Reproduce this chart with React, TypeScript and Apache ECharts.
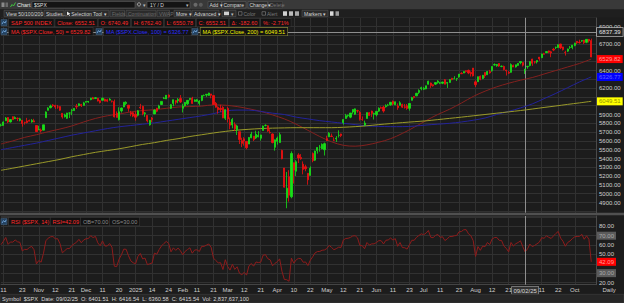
import React, { useEffect, useRef } from "react";
import * as echarts from "echarts";

const FONT = '"Liberation Sans", Arial, Helvetica, sans-serif';

// Daily S&P 500 sessions: [day, open, high, low, close]
const oct24 = [
  [10, 5778, 5796, 5763, 5780], [11, 5775, 5822, 5775, 5815], [14, 5829, 5871, 5829, 5860], [15, 5866, 5871, 5802, 5815],
  [16, 5816, 5846, 5808, 5842], [17, 5875, 5878, 5840, 5841], [18, 5852, 5879, 5849, 5865], [21, 5857, 5866, 5825, 5854],
  [22, 5833, 5863, 5822, 5851], [23, 5835, 5835, 5762, 5797], [24, 5812, 5817, 5785, 5810], [25, 5827, 5862, 5799, 5808],
  [28, 5833, 5842, 5822, 5824], [29, 5816, 5848, 5807, 5833], [30, 5828, 5851, 5813, 5814], [31, 5775, 5776, 5703, 5705],
];
const nov24 = [
  [1, 5723, 5772, 5723, 5729], [4, 5725, 5741, 5696, 5713], [5, 5722, 5784, 5722, 5783], [6, 5864, 5936, 5864, 5929],
  [7, 5947, 5983, 5947, 5973], [8, 5977, 6012, 5970, 5996], [11, 6009, 6018, 5986, 6001], [12, 6003, 6010, 5963, 5984],
  [13, 5986, 6009, 5965, 5985], [14, 5990, 5993, 5942, 5949], [15, 5913, 5915, 5853, 5871], [18, 5875, 5909, 5866, 5894],
  [19, 5857, 5919, 5850, 5917], [20, 5917, 5921, 5860, 5917], [21, 5945, 5964, 5892, 5949], [22, 5944, 5973, 5944, 5969],
  [25, 5993, 6020, 5963, 5987], [26, 6000, 6026, 5993, 6022], [27, 6014, 6021, 5985, 5999], [29, 6003, 6044, 6003, 6032],
];
const dec24 = [
  [2, 6040, 6053, 6036, 6047], [3, 6042, 6053, 6033, 6050], [4, 6069, 6089, 6062, 6086], [5, 6090, 6100, 6075, 6075],
  [6, 6081, 6099, 6080, 6090], [9, 6084, 6088, 6048, 6053], [10, 6057, 6066, 6025, 6035], [11, 6061, 6093, 6061, 6084],
  [12, 6074, 6080, 6050, 6051], [13, 6068, 6079, 6040, 6051], [16, 6063, 6086, 6060, 6074], [17, 6052, 6058, 6036, 6051],
  [18, 6047, 6070, 5867, 5872], [19, 5913, 5935, 5866, 5867], [20, 5842, 5982, 5832, 5931], [23, 5941, 5979, 5921, 5974],
  [24, 5985, 6041, 5983, 6040], [26, 6025, 6050, 6008, 6038], [27, 6007, 6007, 5932, 5971], [30, 5921, 5941, 5880, 5907],
  [31, 5920, 5930, 5870, 5882],
];
const jan25 = [
  [2, 5903, 5935, 5829, 5869], [3, 5892, 5950, 5878, 5942], [6, 5983, 6021, 5961, 5975], [7, 5993, 6000, 5891, 5909],
  [8, 5910, 5928, 5874, 5918], [10, 5890, 5891, 5809, 5827], [13, 5782, 5837, 5773, 5836], [14, 5860, 5871, 5811, 5843],
  [15, 5906, 5960, 5906, 5950], [16, 5972, 5975, 5926, 5937], [17, 5969, 6011, 5969, 5997], [21, 6014, 6051, 6007, 6049],
  [22, 6081, 6100, 6076, 6086], [23, 6077, 6119, 6075, 6119], [24, 6121, 6128, 6089, 6101], [27, 5970, 6018, 5962, 6012],
  [28, 6026, 6070, 5994, 6068], [29, 6058, 6062, 6013, 6039], [30, 6057, 6087, 6028, 6071], [31, 6082, 6121, 6031, 6041],
];
const feb25 = [
  [3, 5970, 6022, 5923, 5995], [4, 5998, 6042, 5991, 6038], [5, 6021, 6063, 6008, 6061], [6, 6072, 6085, 6060, 6084],
  [7, 6086, 6101, 6020, 6026], [10, 6049, 6073, 6046, 6066], [11, 6050, 6077, 6044, 6069], [12, 6026, 6064, 6003, 6052],
  [13, 6060, 6116, 6051, 6115], [14, 6115, 6127, 6108, 6115], [18, 6121, 6130, 6100, 6130], [19, 6117, 6147, 6111, 6144],
  [20, 6134, 6134, 6084, 6118], [21, 6115, 6120, 6008, 6013], [24, 6027, 6043, 5977, 5983], [25, 5982, 5993, 5909, 5955],
  [26, 5970, 6010, 5928, 5956], [27, 5981, 5994, 5858, 5862], [28, 5857, 5960, 5837, 5955],
];
const mar25 = [
  [3, 5969, 5987, 5810, 5850], [4, 5812, 5866, 5732, 5778], [5, 5781, 5861, 5744, 5843], [6, 5786, 5812, 5711, 5739],
  [7, 5726, 5784, 5667, 5770], [10, 5705, 5705, 5565, 5615], [11, 5603, 5636, 5529, 5572], [12, 5624, 5642, 5546, 5599],
  [13, 5594, 5598, 5505, 5522], [14, 5564, 5645, 5564, 5639], [17, 5635, 5703, 5631, 5675], [18, 5654, 5654, 5598, 5615],
  [19, 5633, 5716, 5622, 5675], [20, 5646, 5711, 5641, 5663], [21, 5630, 5670, 5603, 5668], [24, 5718, 5775, 5718, 5768],
  [25, 5776, 5787, 5765, 5777], [26, 5772, 5778, 5703, 5712], [27, 5696, 5733, 5684, 5693], [28, 5679, 5685, 5572, 5581],
  [31, 5527, 5616, 5489, 5612],
];
const apr25 = [
  [1, 5597, 5650, 5558, 5633], [2, 5581, 5695, 5578, 5671], [3, 5492, 5500, 5391, 5397], [4, 5292, 5293, 5070, 5074],
  [7, 4954, 5247, 4835, 5062], [8, 5194, 5267, 4910, 4983], [9, 4965, 5481, 4948, 5457], [10, 5353, 5353, 5115, 5268],
  [11, 5255, 5381, 5201, 5363], [14, 5441, 5460, 5348, 5406], [15, 5411, 5450, 5386, 5397], [16, 5335, 5367, 5220, 5276],
  [17, 5306, 5329, 5255, 5283], [21, 5232, 5232, 5102, 5158], [22, 5208, 5310, 5208, 5288], [23, 5457, 5469, 5357, 5376],
  [24, 5381, 5490, 5371, 5485], [25, 5490, 5528, 5456, 5525], [28, 5529, 5554, 5478, 5529], [29, 5509, 5572, 5505, 5561],
  [30, 5499, 5581, 5434, 5569],
];
const may25 = [
  [1, 5626, 5659, 5598, 5604], [2, 5646, 5700, 5646, 5687], [5, 5655, 5683, 5643, 5650], [6, 5607, 5641, 5598, 5607],
  [7, 5623, 5655, 5588, 5631], [8, 5663, 5720, 5638, 5664], [9, 5679, 5683, 5643, 5660], [12, 5807, 5847, 5786, 5844],
  [13, 5855, 5907, 5853, 5887], [14, 5888, 5899, 5868, 5893], [15, 5870, 5917, 5858, 5917], [16, 5929, 5959, 5908, 5958],
  [19, 5903, 5968, 5896, 5964], [20, 5944, 5954, 5920, 5940], [21, 5923, 5938, 5831, 5845], [22, 5842, 5878, 5828, 5842],
  [23, 5781, 5830, 5768, 5803], [27, 5855, 5922, 5855, 5922], [28, 5921, 5929, 5884, 5889], [29, 5939, 5944, 5873, 5912],
  [30, 5904, 5922, 5843, 5912],
];
const jun25 = [
  [2, 5897, 5937, 5879, 5936], [3, 5938, 5981, 5929, 5970], [4, 5978, 5991, 5967, 5971], [5, 5985, 5999, 5921, 5939],
  [6, 5988, 6016, 5978, 6000], [9, 6005, 6021, 5994, 6006], [10, 6010, 6043, 6000, 6039], [11, 6050, 6059, 6003, 6022],
  [12, 6010, 6046, 6006, 6045], [13, 5997, 6026, 5953, 5977], [16, 6004, 6051, 6004, 6033], [17, 6013, 6023, 5974, 5983],
  [18, 5987, 6019, 5967, 5981], [20, 5999, 6019, 5953, 5968], [23, 5970, 6028, 5944, 6025], [24, 6061, 6101, 6059, 6092],
  [25, 6105, 6108, 6081, 6092], [26, 6112, 6146, 6108, 6141], [27, 6151, 6187, 6132, 6173], [30, 6193, 6216, 6175, 6205],
];
const jul25 = [
  [1, 6187, 6211, 6178, 6198], [2, 6191, 6227, 6187, 6227], [3, 6243, 6284, 6241, 6279], [7, 6258, 6263, 6202, 6230],
  [8, 6238, 6243, 6216, 6226], [9, 6245, 6266, 6236, 6263], [10, 6264, 6290, 6249, 6280], [11, 6256, 6270, 6245, 6260],
  [14, 6255, 6272, 6245, 6269], [15, 6295, 6302, 6243, 6244], [16, 6256, 6269, 6202, 6264], [17, 6264, 6300, 6261, 6297],
  [18, 6311, 6316, 6289, 6297], [21, 6305, 6336, 6303, 6306], [22, 6307, 6310, 6281, 6310], [23, 6327, 6360, 6318, 6359],
  [24, 6368, 6381, 6361, 6363], [25, 6371, 6390, 6369, 6389], [28, 6397, 6401, 6375, 6390], [29, 6402, 6410, 6358, 6371],
  [30, 6378, 6390, 6332, 6363], [31, 6428, 6428, 6332, 6339],
];
const aug25 = [
  [1, 6271, 6288, 6213, 6238], [4, 6272, 6330, 6272, 6330], [5, 6336, 6343, 6289, 6299], [6, 6309, 6350, 6301, 6345],
  [7, 6377, 6379, 6314, 6340], [8, 6351, 6395, 6351, 6389], [11, 6389, 6407, 6364, 6373], [12, 6398, 6446, 6386, 6446],
  [13, 6462, 6481, 6456, 6467], [14, 6453, 6474, 6442, 6469], [15, 6479, 6481, 6441, 6450], [18, 6445, 6457, 6437, 6449],
  [19, 6446, 6456, 6401, 6411], [20, 6405, 6408, 6343, 6396], [21, 6380, 6393, 6360, 6370], [22, 6379, 6481, 6374, 6467],
  [25, 6458, 6467, 6439, 6439], [26, 6440, 6466, 6433, 6466], [27, 6458, 6482, 6453, 6481], [28, 6489, 6503, 6471, 6502],
  [29, 6492, 6493, 6445, 6460],
];
const sep25 = [
  [2, 6402, 6417, 6361, 6416], [3, 6443, 6452, 6420, 6448], [4, 6457, 6502, 6447, 6502], [5, 6530, 6533, 6453, 6482],
  [8, 6499, 6508, 6478, 6495], [9, 6498, 6513, 6479, 6513], [10, 6552, 6554, 6510, 6532], [11, 6545, 6592, 6543, 6587],
  [12, 6591, 6601, 6580, 6584], [15, 6602, 6617, 6600, 6615], [16, 6623, 6627, 6596, 6607], [17, 6613, 6624, 6551, 6600],
  [18, 6642, 6657, 6620, 6632], [19, 6661, 6672, 6643, 6664], [22, 6660, 6695, 6660, 6694], [23, 6701, 6703, 6643, 6657],
  [24, 6668, 6670, 6627, 6638], [25, 6608, 6625, 6570, 6605], [26, 6620, 6649, 6611, 6644], [29, 6661, 6679, 6644, 6661],
  [30, 6662, 6690, 6642, 6688],
];
const oct25 = [
  [1, 6685, 6715, 6675, 6711], [2, 6732, 6734, 6700, 6715], [3, 6722, 6750, 6706, 6716], [6, 6734, 6744, 6725, 6740],
  [7, 6745, 6747, 6700, 6715], [8, 6720, 6755, 6710, 6754], [9, 6754, 6757, 6718, 6735], [10, 6740, 6762, 6551, 6553],
];

const monthBlocks: [string, number[][]][] = [
  ["2024-10", oct24], ["2024-11", nov24], ["2024-12", dec24], ["2025-01", jan25], ["2025-02", feb25],
  ["2025-03", mar25], ["2025-04", apr25], ["2025-05", may25], ["2025-06", jun25], ["2025-07", jul25],
  ["2025-08", aug25], ["2025-09", sep25], ["2025-10", oct25],
];

// closes of the 14 sessions before the first visible one (RSI warm-up)
const priorCloses = [5702, 5719, 5732, 5722, 5745, 5738, 5762, 5709, 5710, 5699, 5751, 5696, 5751, 5792];

// moving averages, read every 5 sessions from the first visible one
const maStep = 5;
const ma50 = [5565, 5600, 5640, 5670, 5705, 5735, 5770, 5815, 5855, 5885, 5905, 5930, 5945, 5955, 5970, 5985, 5990,
  5995, 6010, 6005, 5990, 5965, 5935, 5895, 5850, 5790, 5720, 5650, 5590, 5550, 5540, 5555, 5585, 5625, 5685, 5755,
  5830, 5900, 5960, 6030, 6105, 6165, 6215, 6255, 6290, 6320, 6360, 6400, 6440, 6480, 6530];
const ma100 = [5500, 5525, 5550, 5575, 5605, 5635, 5665, 5690, 5715, 5740, 5760, 5775, 5790, 5805, 5825, 5845, 5865,
  5885, 5910, 5940, 5950, 5950, 5935, 5915, 5900, 5870, 5850, 5830, 5815, 5800, 5785, 5770, 5765, 5762, 5762, 5768,
  5780, 5790, 5800, 5815, 5835, 5860, 5900, 5935, 5975, 6020, 6080, 6140, 6205, 6270, 6327];
const ma200 = [5266, 5290, 5315, 5340, 5365, 5390, 5420, 5445, 5470, 5490, 5510, 5535, 5560, 5580, 5605, 5625, 5650,
  5670, 5690, 5708, 5722, 5732, 5740, 5745, 5748, 5750, 5750, 5750, 5750, 5755, 5762, 5772, 5785, 5797, 5808, 5818,
  5828, 5842, 5856, 5870, 5885, 5900, 5915, 5930, 5945, 5962, 5980, 5997, 6015, 6032, 6050];

// date-axis tick labels
const tickLabels: [string, string][] = [
  ["2024-10-11", "11"], ["2024-10-23", "23"], ["2024-11-01", "Nov"], ["2024-11-12", "12"], ["2024-11-21", "21"],
  ["2024-12-02", "Dec"], ["2024-12-11", "11"], ["2024-12-20", "20"], ["2025-01-02", "2025"], ["2025-01-14", "14"],
  ["2025-01-24", "24"], ["2025-02-03", "Feb"], ["2025-02-11", "11"], ["2025-02-21", "21"], ["2025-03-03", "Mar"],
  ["2025-03-12", "12"], ["2025-03-21", "21"], ["2025-04-01", "Apr"], ["2025-04-10", "10"], ["2025-04-22", "22"],
  ["2025-05-01", "May"], ["2025-05-12", "12"], ["2025-05-21", "21"], ["2025-06-02", "Jun"], ["2025-06-11", "11"],
  ["2025-06-23", "23"], ["2025-07-01", "Jul"], ["2025-07-11", "11"], ["2025-07-23", "23"], ["2025-08-01", "Aug"],
  ["2025-08-12", "12"], ["2025-08-21", "21"], ["2025-09-02", "Sep"], ["2025-09-11", "11"], ["2025-09-22", "22"],
  ["2025-10-01", "Oct"],
];

// header / legend / status texts
const quoteItems = ["S&P 500 INDEX", "Close: 6552.51", "O: 6740.49", "H: 6762.40", "L: 6550.78", "C: 6552.51", "Δ: -182.60", "%: -2.71%"];
const statusItems = ["Symbol", "$SPX", "Date: 09/02/25", "O: 6401.51", "H: 6416.54", "L: 6360.58", "C: 6415.54", "Vol: 2,837,637,100"];

const crossDate = "2025-09-02";
const crossDateLabel = "09/02/25";
const crossPrice = 6837.39;
const lastMa50 = 6529.82;
const lastMa100 = 6326.77;
const lastMa200 = 6049.51;
const lastRsi = 42.09;
const rsiOB = 70;
const rsiOS = 30;
const shownPriceTicks = [4900, 5000, 5100, 5200, 5300, 5400, 5500, 5600, 5700, 5800, 5900, 6200, 6400, 6700, 6900];
const shownRsiTicks = [20, 50, 60, 80];

function wilderRsi(series: number[], period: number): number[] {
  const out: number[] = [];
  let g = 0;
  let l = 0;
  for (let i = 1; i <= period; i++) {
    const d = series[i] - series[i - 1];
    if (d > 0) g += d; else l -= d;
  }
  g /= period;
  l /= period;
  out.push(l === 0 ? 100 : 100 - 100 / (1 + g / l));
  for (let i = period + 1; i < series.length; i++) {
    const d = series[i] - series[i - 1];
    g = (g * (period - 1) + Math.max(d, 0)) / period;
    l = (l * (period - 1) + Math.max(-d, 0)) / period;
    out.push(l === 0 ? 100 : 100 - 100 / (1 + g / l));
  }
  return out;
}

function buildOption() {
  const dates: string[] = [];
  const candles: number[][] = [];
  for (const [ym, rows] of monthBlocks) {
    for (const r of rows) {
      dates.push(`${ym}-${String(r[0]).padStart(2, "0")}`);
      candles.push([r[1], r[4], r[3], r[2]]);
    }
  }
  const closes = candles.map((c) => c[1]);
  const rsi = wilderRsi([...priorCloses, ...closes], 14).map((v, i) => [dates[i], +v.toFixed(2)]);
  const cats = [...dates, "pad-1", "pad-2"];
  const labelMap: Record<string, string> = {};
  tickLabels.forEach(([d, t]) => (labelMap[d] = t));
  const isTick = (_i: number, v: string) => labelMap[v] !== undefined;
  const maData = (arr: number[]) => arr.map((v, k) => [dates[k * maStep], v]);

  const gridColor = "#313131";
  const noLine = { color: "rgba(0,0,0,0)", width: 0 };
  const boxLabel = (text: string, bg: string, color: string, border?: string) => ({
    show: true, position: "end", distance: 1, formatter: text, color, backgroundColor: bg, opacity: 1,
    borderColor: border || bg, borderWidth: border ? 0.8 : 0, padding: [1.5, 2, 0.5, 2],
    fontSize: 6, fontFamily: FONT,
  });
  const crossLine = { color: "#8e8e8e", width: 1, type: "solid" };

  const maSeries = (name: string, arr: number[], color: string, last: number, bg: string, txt: string) => ({
    name, type: "line", xAxisIndex: 0, yAxisIndex: 0, data: maData(arr), showSymbol: false, smooth: 0.35,
    lineStyle: { color, width: 1 }, itemStyle: { color }, silent: true, z: 3,
    markLine: {
      silent: true, symbol: ["none", "none"], emphasis: { disabled: true },
      data: [{ yAxis: last, lineStyle: noLine, label: boxLabel(last.toFixed(2), bg, txt) }],
    },
  });

  // ---------- overlay UI (toolbar, legends, status bar) ----------
  const T = (x: number, y: number, text: string, fill: string, size = 6, extra: any = {}) => ({
    type: "text", x, y, z: 101, silent: true,
    style: { text, fill, fontSize: size, fontFamily: FONT, verticalAlign: "middle", align: "left", ...extra },
  });
  const R = (x: number, y: number, w: number, h: number, fill: string, stroke?: string, lw = 0.6) => ({
    type: "rect", z: 100, silent: true, shape: { x, y, width: w, height: h },
    style: { fill, stroke: stroke || "none", lineWidth: lw },
  });
  const btn = (x: number, w: number, label: string, color = "#d4d4d4") => [
    R(x, 10.3, w, 6.4, "#2b2b2b", "#555555"),
    T(x + 2, 13.6, label, color, 5),
  ];
  const boxStyle = (fill: string, border = "#3a3a3a") => ({
    fill, fontSize: 5.6, fontFamily: FONT, backgroundColor: "#121212", borderColor: border, borderWidth: 0.6,
    padding: [1.2, 2, 0.6, 2],
  });
  const legendBox = (x: number, y: number, text: string, color: string, border = "#3a3a3a") =>
    T(x, y, text, color, 5.6, { backgroundColor: "#121212", borderColor: border, borderWidth: 0.6, padding: [1.2, 2, 0.6, 2] });
  const richRow = (x: number, y: number, items: string[], key: string, richDef: any) => ({
    type: "text", x, y, z: 101, silent: true,
    style: {
      text: items.map((t) => `{${key}|${t}}`).join("{gap| }"),
      verticalAlign: "middle", align: "left", fontSize: 5.6, fontFamily: FONT,
      rich: { gap: { fontSize: 5.6, fontFamily: FONT, fill: "#000" }, ...richDef },
    },
  });
  const studyIcon = (x: number, y: number) => [
    R(x, y - 3, 6, 6, "#23415f", "#4a6a8a", 0.5),
    {
      type: "polyline", z: 101, silent: true,
      shape: { points: [[x + 1, y + 1.5], [x + 2.5, y - 1], [x + 4, y + 0.5], [x + 5.2, y - 1.8]] },
      style: { stroke: "#8cc4ff", lineWidth: 0.7, fill: "none" },
    },
  ];

  const graphics: any[] = [
    // window title row
    R(0, 0, 624, 9.5, "#393939"),
    R(1.5, 2.5, 3, 4.5, "#8a8a8a"), R(5.5, 2.5, 2.5, 4.5, "#6a6a6a"),
    {
      type: "polyline", z: 101, silent: true,
      shape: { points: [[10.5, 7], [12, 4.5], [13.5, 6], [15.5, 2.5]] },
      style: { stroke: "#3fd13f", lineWidth: 0.9, fill: "none" },
    },
    T(17, 5, "Chart", "#e6e6e6", 5.5),
    R(32, 1.5, 103, 6.5, "#141414", "#5a5a5a"), T(34, 4.9, "$SPX", "#e0e0e0", 5),
    { type: "circle", z: 101, silent: true, shape: { cx: 139, cy: 4.4, r: 1.6 }, style: { fill: "none", stroke: "#cfcfcf", lineWidth: 0.7 } },
    T(142.5, 4.9, "▾", "#bbbbbb", 5),
    R(147, 1.5, 43, 6.5, "#141414", "#5a5a5a"), T(150, 4.9, "1Y / D", "#d8d8d8", 5), T(185.5, 4.9, "▾", "#bbbbbb", 5),
    { type: "circle", z: 101, silent: true, shape: { cx: 195.5, cy: 4.8, r: 2 }, style: { fill: "#6a6a6a" } },
    { type: "circle", z: 101, silent: true, shape: { cx: 200.8, cy: 4.8, r: 2 }, style: { fill: "#5a5a5a" } },
    R(208, 1.5, 13.5, 6.5, "#2b2b2b", "#5a5a5a"), T(209.5, 4.9, "Add ▾", "#d8d8d8", 5),
    R(222, 1.5, 24, 6.5, "#2b2b2b", "#5a5a5a"), T(223.5, 4.9, "Compare", "#d8d8d8", 5),
    R(248, 1.5, 19.5, 6.5, "#2b2b2b", "#5a5a5a"), T(249.5, 4.9, "Change ▾", "#d8d8d8", 5),
    R(268.5, 1.5, 14, 6.5, "#2b2b2b", "#4a4a4a"), T(270, 4.9, "Delete", "#7a7a7a", 5),
    // tool row
    R(0, 9.5, 624, 8, "#1f1f1f"),
    ...btn(4, 38, "View 50/100/200"),
    ...btn(44, 20, "Studies..."),
    ...btn(65, 44, "   Selection Tool ▾"),
    {
      type: "polygon", z: 101, silent: true,
      shape: { points: [[67, 11.5], [67, 15.5], [68.2, 14.4], [69.5, 16], [70, 15.6], [69, 14], [70.5, 14]] },
      style: { fill: "#e8e8e8" },
    },
    ...btn(110, 14.5, "Fields...", "#6c6c6c"),
    ...btn(126, 30, "Continuation", "#6c6c6c"),
    ...btn(157, 12.5, "VWAP", "#6c6c6c"),
    ...btn(174, 17, "More ▾"),
    ...btn(192, 27, "Advanced ▾"),
    R(222, 10.3, 14, 6.4, "#2b2b2b", "#555555"), R(224, 11.6, 5, 3.6, "#cfcfcf"), T(231, 13.6, "▾", "#bbbbbb", 5),
    R(238.5, 11.7, 3.5, 3.5, "#1a1a1a", "#888888"), T(243.5, 13.6, "Color", "#7a7a7a", 5),
    R(262, 11.7, 3.5, 3.5, "#1a1a1a", "#888888"), T(267, 13.6, "Alert", "#7a7a7a", 5),
    R(283, 11.3, 4, 4.5, "#d0d0d0"), R(289, 11.3, 4, 4.5, "#bcbcbc"), R(295, 11.3, 4, 4.5, "#a8a8a8"),
    ...btn(302, 26, "Markers ▾"),
    R(330, 11.3, 3.5, 4.5, "#d8d8d8"), R(335.5, 11.3, 3.5, 4.5, "#9a9a9a"),
    // study legends, row 1
    ...studyIcon(1, 22.6),
    richRow(9, 22.6, quoteItems, "q", { q: boxStyle("#ff2a2a") }),
    // study legends, row 2
    ...studyIcon(1, 31.6),
    legendBox(9, 31.6, "MA ($SPX.Close, 50) = 6529.82", "#ff2a2a"),
    ...studyIcon(96, 31.6),
    legendBox(104, 31.6, "MA ($SPX.Close, 100) = 6326.77", "#2f2fff"),
    ...studyIcon(192, 31.6),
    legendBox(200.5, 31.6, "MA ($SPX.Close, 200) = 6049.51", "#f2f200", "#8a8a3a"),
    // pane separator
    R(0, 212.8, 624, 2.4, "#505050"),
    // RSI legend
    ...studyIcon(1, 221.6),
    legendBox(9, 221.6, "RSI ($SPX, 14)", "#ff2a2a"),
    legendBox(50.5, 221.6, "RSI=42.09", "#ff2a2a"),
    legendBox(81, 221.6, "OB=70.00", "#8a8a8a"),
    legendBox(110, 221.6, "OS=30.00", "#8a8a8a"),
    T(602.5, 289.8, "Daily", "#cfcfcf", 6),
    // status bar
    R(0, 294.3, 624, 8.7, "#262626", "#444444", 0.5),
    {
      type: "text", x: 2, y: 298.8, z: 101, silent: true,
      style: {
        text: statusItems.map((t) => `{s|${t}}`).join("{g|  }"),
        verticalAlign: "middle", align: "left", fontSize: 5.6, fontFamily: FONT,
        rich: {
          s: { fill: "#d6d6d6", fontSize: 5.6, fontFamily: FONT },
          g: { fill: "#d6d6d6", fontSize: 5.6, fontFamily: FONT },
        },
      },
    },
  ];

  const priceTop = 17.5;
  const priceBottom = 212.8;
  const pxPer100 = 8.8;
  const y6900 = 26.5;
  const priceMax = 6900 + ((y6900 - priceTop) / pxPer100) * 100;
  const priceMin = priceMax - ((priceBottom - priceTop) / pxPer100) * 100;

  const rsiTop = 216;
  const rsiBottom = 284.7;
  const y20 = 282.5;
  const pxPer10 = 9.36;
  const rsiMin = 20 - ((rsiBottom - y20) / pxPer10) * 10;
  const rsiMax = 20 + ((y20 - rsiTop) / pxPer10) * 10;

  const xBase = {
    type: "category", data: cats, boundaryGap: false,
    axisTick: { show: false },
    splitLine: { show: true, interval: isTick, lineStyle: { color: gridColor, width: 1 } },
  };

  return {
    animation: false,
    backgroundColor: "#1c1c1c",
    textStyle: { fontFamily: FONT },
    graphic: { elements: graphics },
    grid: [
      { left: 1, right: 28, top: priceTop, height: priceBottom - priceTop, containLabel: false, outerBoundsMode: "none" },
      { left: 1, right: 28, top: rsiTop, height: rsiBottom - rsiTop, containLabel: false, outerBoundsMode: "none" },
    ],
    xAxis: [
      { ...xBase, gridIndex: 0, axisLine: { show: false }, axisLabel: { show: false } },
      {
        ...xBase, gridIndex: 1,
        axisLine: { show: true, lineStyle: { color: "#444444" } },
        axisLabel: {
          show: true, interval: isTick, color: "#cfcfcf", fontSize: 6, fontFamily: FONT, margin: 2.2, hideOverlap: false,
          formatter: (v: string) => (v === crossDate ? `{box|${crossDateLabel}}` : labelMap[v] || ""),
          rich: {
            box: {
              fontSize: 6, fontFamily: FONT, color: "#d8d8d8", backgroundColor: "#333333",
              borderColor: "#9a9a9a", borderWidth: 0.7, padding: [1, 1.5, 0, 1.5],
            },
          },
        },
      },
    ],
    yAxis: [
      {
        type: "value", gridIndex: 0, position: "right", min: priceMin, max: priceMax,
        minInterval: 100, maxInterval: 100,
        axisLine: { show: true, lineStyle: { color: "#4a4a4a" } }, axisTick: { show: false },
        splitLine: { show: true, lineStyle: { color: gridColor, width: 1 } },
        axisLabel: {
          color: "#cfcfcf", fontSize: 6, fontFamily: FONT, margin: 3, hideOverlap: false,
          showMinLabel: false, showMaxLabel: false,
          formatter: (v: number) => {
            const r = Math.round(v);
            if (Math.abs(v - r) > 0.01 || !shownPriceTicks.includes(r)) return "";
            return r.toFixed(2);
          },
        },
      },
      {
        type: "value", gridIndex: 1, position: "right", min: rsiMin, max: rsiMax,
        minInterval: 10, maxInterval: 10,
        axisLine: { show: true, lineStyle: { color: "#4a4a4a" } }, axisTick: { show: false },
        splitLine: { show: true, lineStyle: { color: gridColor, width: 1 } },
        axisLabel: {
          color: "#cfcfcf", fontSize: 6, fontFamily: FONT, margin: 3, hideOverlap: false,
          showMinLabel: false, showMaxLabel: false,
          formatter: (v: number) => {
            const r = Math.round(v);
            if (Math.abs(v - r) > 0.01 || !shownRsiTicks.includes(r)) return "";
            return r.toFixed(2);
          },
        },
      },
    ],
    series: [
      {
        name: "SPX", type: "candlestick", xAxisIndex: 0, yAxisIndex: 0, data: candles, barWidth: 1.7, silent: true, z: 4,
        itemStyle: { color: "#18e018", color0: "#f01010", borderColor: "#18e018", borderColor0: "#f01010", borderWidth: 0.8 },
        markLine: {
          silent: true, symbol: ["none", "none"], emphasis: { disabled: true }, z: 2,
          data: [
            { yAxis: crossPrice, lineStyle: crossLine, label: boxLabel(crossPrice.toFixed(2), "#232323", "#e2e2e2", "#b4b4b4") },
            { xAxis: crossDate, lineStyle: crossLine, label: { show: false } },
          ],
        },
      },
      maSeries("MA50", ma50, "#84211f", lastMa50, "#ff0000", "#ff9a9a"),
      maSeries("MA100", ma100, "#23239a", lastMa100, "#0000ff", "#6060ff"),
      maSeries("MA200", ma200, "#9a9a2a", lastMa200, "#ffff00", "#8f8f00"),
      {
        name: "RSI", type: "line", xAxisIndex: 1, yAxisIndex: 1, data: rsi, showSymbol: false, silent: true,
        lineStyle: { color: "#8e1c1c", width: 1 }, itemStyle: { color: "#8e1c1c" },
        markLine: {
          silent: true, symbol: ["none", "none"], emphasis: { disabled: true },
          data: [
            { xAxis: crossDate, lineStyle: crossLine, label: { show: false } },
            { yAxis: rsiOB, lineStyle: noLine, label: boxLabel(rsiOB.toFixed(2), "#5b5b5b", "#a9a9a9") },
            { yAxis: rsiOS, lineStyle: noLine, label: boxLabel(rsiOS.toFixed(2), "#5b5b5b", "#a9a9a9") },
            { yAxis: lastRsi, lineStyle: noLine, label: boxLabel(lastRsi.toFixed(2), "#ff0000", "#ff9a9a") },
          ],
        },
      },
    ],
  };
}

export default function App() {
  const ref = useRef<HTMLDivElement>(null);
  useEffect(() => {
    if (!ref.current) return;
    const chart = echarts.init(ref.current, null, { renderer: "svg" });
    chart.setOption(buildOption() as any);
    return () => chart.dispose();
  }, []);
  return (
    <div
      ref={ref}
      style={{ position: "fixed", left: 0, top: 0, width: 624, height: 303, background: "#1c1c1c" }}
    />
  );
}
